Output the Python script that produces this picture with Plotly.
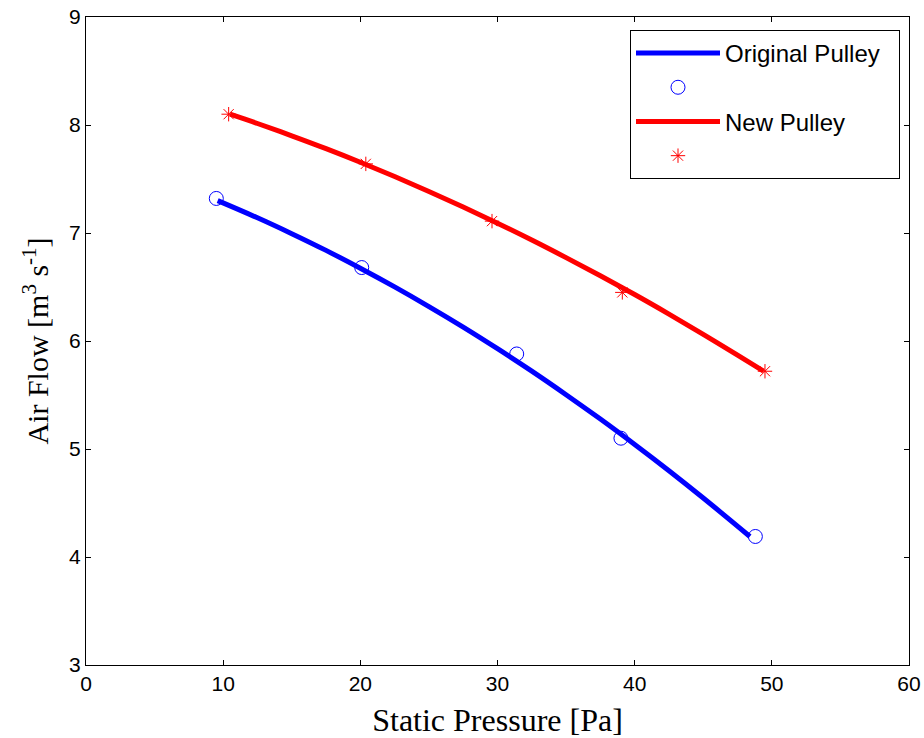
import plotly.graph_objects as go

# Measured data points
orig_x = [9.5, 20.1, 31.4, 39.0, 48.8]
orig_y = [7.32, 6.68, 5.88, 5.10, 4.19]
new_x = [10.4, 20.4, 29.6, 39.1, 49.5]
new_y = [8.10, 7.64, 7.11, 6.45, 5.72]

# Fitted curves
orig_fit_x = [9.6, 12.5, 15.0, 17.5, 20.0, 22.5, 25.0, 27.5, 30.0, 32.5, 35.0, 37.5, 40.0, 42.5, 45.0, 48.4]
orig_fit_y = [7.300, 7.141, 6.994, 6.839, 6.674, 6.501, 6.319, 6.129, 5.929, 5.721, 5.503, 5.277, 5.042, 4.799, 4.546, 4.190]
new_fit_x = [10.5, 12.5, 15.0, 17.5, 20.0, 22.5, 25.0, 27.5, 30.0, 32.5, 35.0, 37.5, 40.0, 42.5, 45.0, 47.5, 49.4]
new_fit_y = [8.100, 8.014, 7.900, 7.781, 7.655, 7.523, 7.385, 7.241, 7.091, 6.935, 6.772, 6.604, 6.430, 6.249, 6.062, 5.869, 5.720]

x_ticks = [0, 10, 20, 30, 40, 50, 60]
y_ticks = [3, 4, 5, 6, 7, 8, 9]

NB = "\u00a0"

fig = go.Figure()
fig.add_trace(go.Scatter(x=orig_fit_x, y=orig_fit_y, mode="lines", name="Original Pulley" + NB * 2,
                         line=dict(color="#0000ff", width=5, shape="spline", smoothing=1.0)))
fig.add_trace(go.Scatter(x=orig_x, y=orig_y, mode="markers", name=" ",
                         marker=dict(symbol="circle-open", size=14, color="#0000ff",
                                     line=dict(width=1, color="#0000ff"))))
fig.add_trace(go.Scatter(x=new_fit_x, y=new_fit_y, mode="lines", name="New Pulley",
                         line=dict(color="#ff0000", width=5, shape="spline", smoothing=1.0)))
fig.add_trace(go.Scatter(x=new_x, y=new_y, mode="markers", name="  ",
                         marker=dict(symbol="asterisk-open", size=12, color="#ff0000",
                                     line=dict(width=1, color="#ff0000"))))

axis_common = dict(showline=True, linecolor="black", linewidth=1, mirror="ticks",
                   ticks="inside", ticklen=5, tickwidth=1, tickcolor="black", showgrid=False,
                   zeroline=False, automargin=False, ticklabeloverflow="allow",
                   tickfont=dict(family="Liberation Sans, Arial", size=21, color="black"))

fig.update_layout(
    width=924, height=738,
    margin=dict(l=86, r=15, t=17, b=73),
    plot_bgcolor="white", paper_bgcolor="white",
    xaxis=dict(range=[0, 60], tickvals=x_ticks,
               title=dict(text="Static Pressure [Pa]", standoff=14,
                          font=dict(family="Liberation Serif, Times New Roman", size=32, color="black")),
               **axis_common),
    yaxis=dict(range=[3, 9], tickvals=y_ticks,
               title=dict(text="Air Flow [m<sup>3</sup> s<sup>-1</sup>]", standoff=11,
                          font=dict(family="Liberation Serif, Times New Roman", size=30, color="black")),
               **axis_common),
    legend=dict(x=0.661, y=0.98, xanchor="left", yanchor="top",
                bordercolor="black", borderwidth=1, bgcolor="white", itemwidth=84,
                font=dict(family="Liberation Sans, Arial", size=24, color="black")),
    showlegend=True,
)

fig.write_html("out.html", config={"displayModeBar": False},
               post_script="document.body.style.margin='0';document.body.style.overflow='hidden';")
